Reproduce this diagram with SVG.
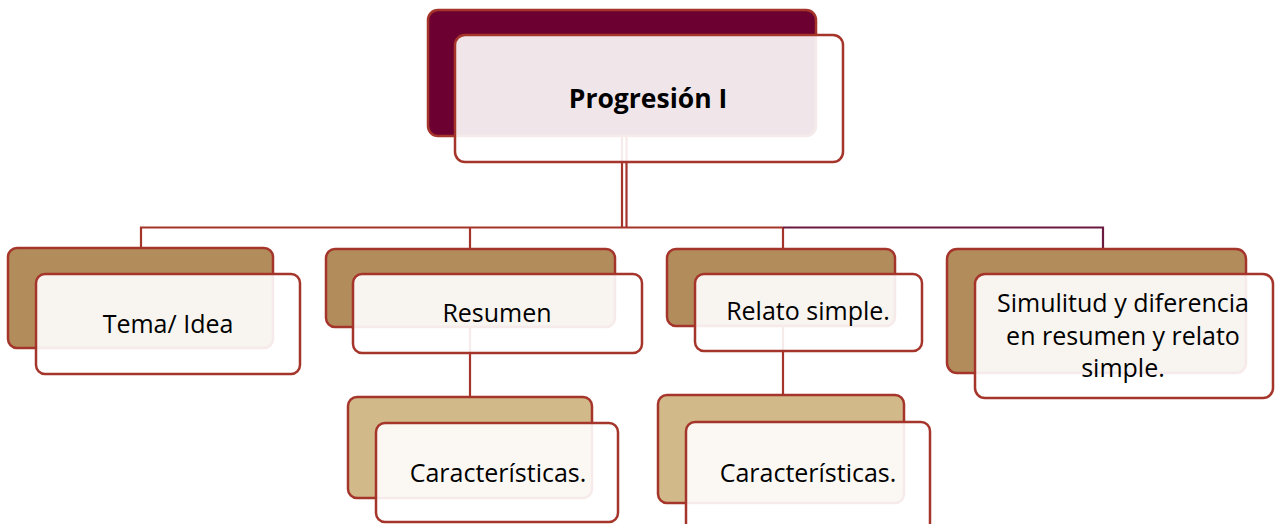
<svg xmlns="http://www.w3.org/2000/svg" width="1275" height="524" viewBox="0 0 1275 524">
<style>
.back{stroke:#A5352B;stroke-width:2.5}
.dark{fill:#6C0030}
.tan{fill:#B38C5C}
.ltan{fill:#D2B98A}
.front{fill:#FFFFFF;fill-opacity:0.9;stroke:#A5352B;stroke-width:2.5}
.t{font-family:"Open Sans","Noto Sans","Liberation Sans",sans-serif;font-size:25px;fill:#000;text-anchor:middle}
.b{font-weight:bold;font-size:26.5px}
.c{fill:none;stroke:#A5352B;stroke-width:2.2}
.p{fill:none;stroke:#6B1A40;stroke-width:2.2}
</style>
<rect width="1275" height="524" fill="#FFFFFF"/>
<g id="connectors">
<path class="c" d="M622 136V228M626.5 136V228"/>
<path class="c" d="M141 248V227.5H783"/>
<path class="c" d="M470 227.5V249"/>
<path class="c" d="M783 227.5V249"/>
<path class="p" d="M783 227.5H1103V249"/>
<path class="c" d="M470 327V397"/>
<path class="c" d="M783 326V395"/>
</g>
<g id="node-progresion">
<rect class="back dark" x="428" y="10" width="388" height="126" rx="10"/>
<rect class="front" x="455" y="35" width="388" height="127" rx="10"/>
<text class="t b" x="648" y="108">Progresión I</text>
</g>
<g id="node-tema">
<rect class="back tan" x="8" y="248" width="265" height="100" rx="9"/>
<rect class="front" x="36" y="274" width="264" height="100" rx="9"/>
<text class="t" x="168" y="333">Tema/ Idea</text>
</g>
<g id="node-resumen">
<rect class="back tan" x="326" y="249" width="289" height="78" rx="9"/>
<rect class="front" x="353" y="274" width="289" height="79" rx="9"/>
<text class="t" x="497" y="322">Resumen</text>
</g>
<g id="node-relato">
<rect class="back tan" x="667" y="249" width="228" height="77" rx="9"/>
<rect class="front" x="695" y="274" width="227" height="77" rx="9"/>
<text class="t" x="808" y="320">Relato simple.</text>
</g>
<g id="node-simulitud">
<rect class="back tan" x="947" y="249" width="299" height="124" rx="10"/>
<rect class="front" x="975" y="274" width="298" height="124" rx="10"/>
<text class="t" x="1123" y="312">Simulitud y diferencia</text>
<text class="t" x="1123" y="345">en resumen y relato</text>
<text class="t" x="1123" y="377">simple.</text>
</g>
<g id="node-caract-1">
<rect class="back ltan" x="348" y="397" width="244" height="101" rx="9"/>
<rect class="front" x="376" y="423" width="242" height="99" rx="9"/>
<text class="t" x="498" y="482">Características.</text>
</g>
<g id="node-caract-2">
<rect class="back ltan" x="658" y="395" width="246" height="108" rx="9"/>
<rect class="front" x="686" y="422" width="244" height="110" rx="9"/>
<text class="t" x="808" y="482">Características.</text>
</g>
</svg>
